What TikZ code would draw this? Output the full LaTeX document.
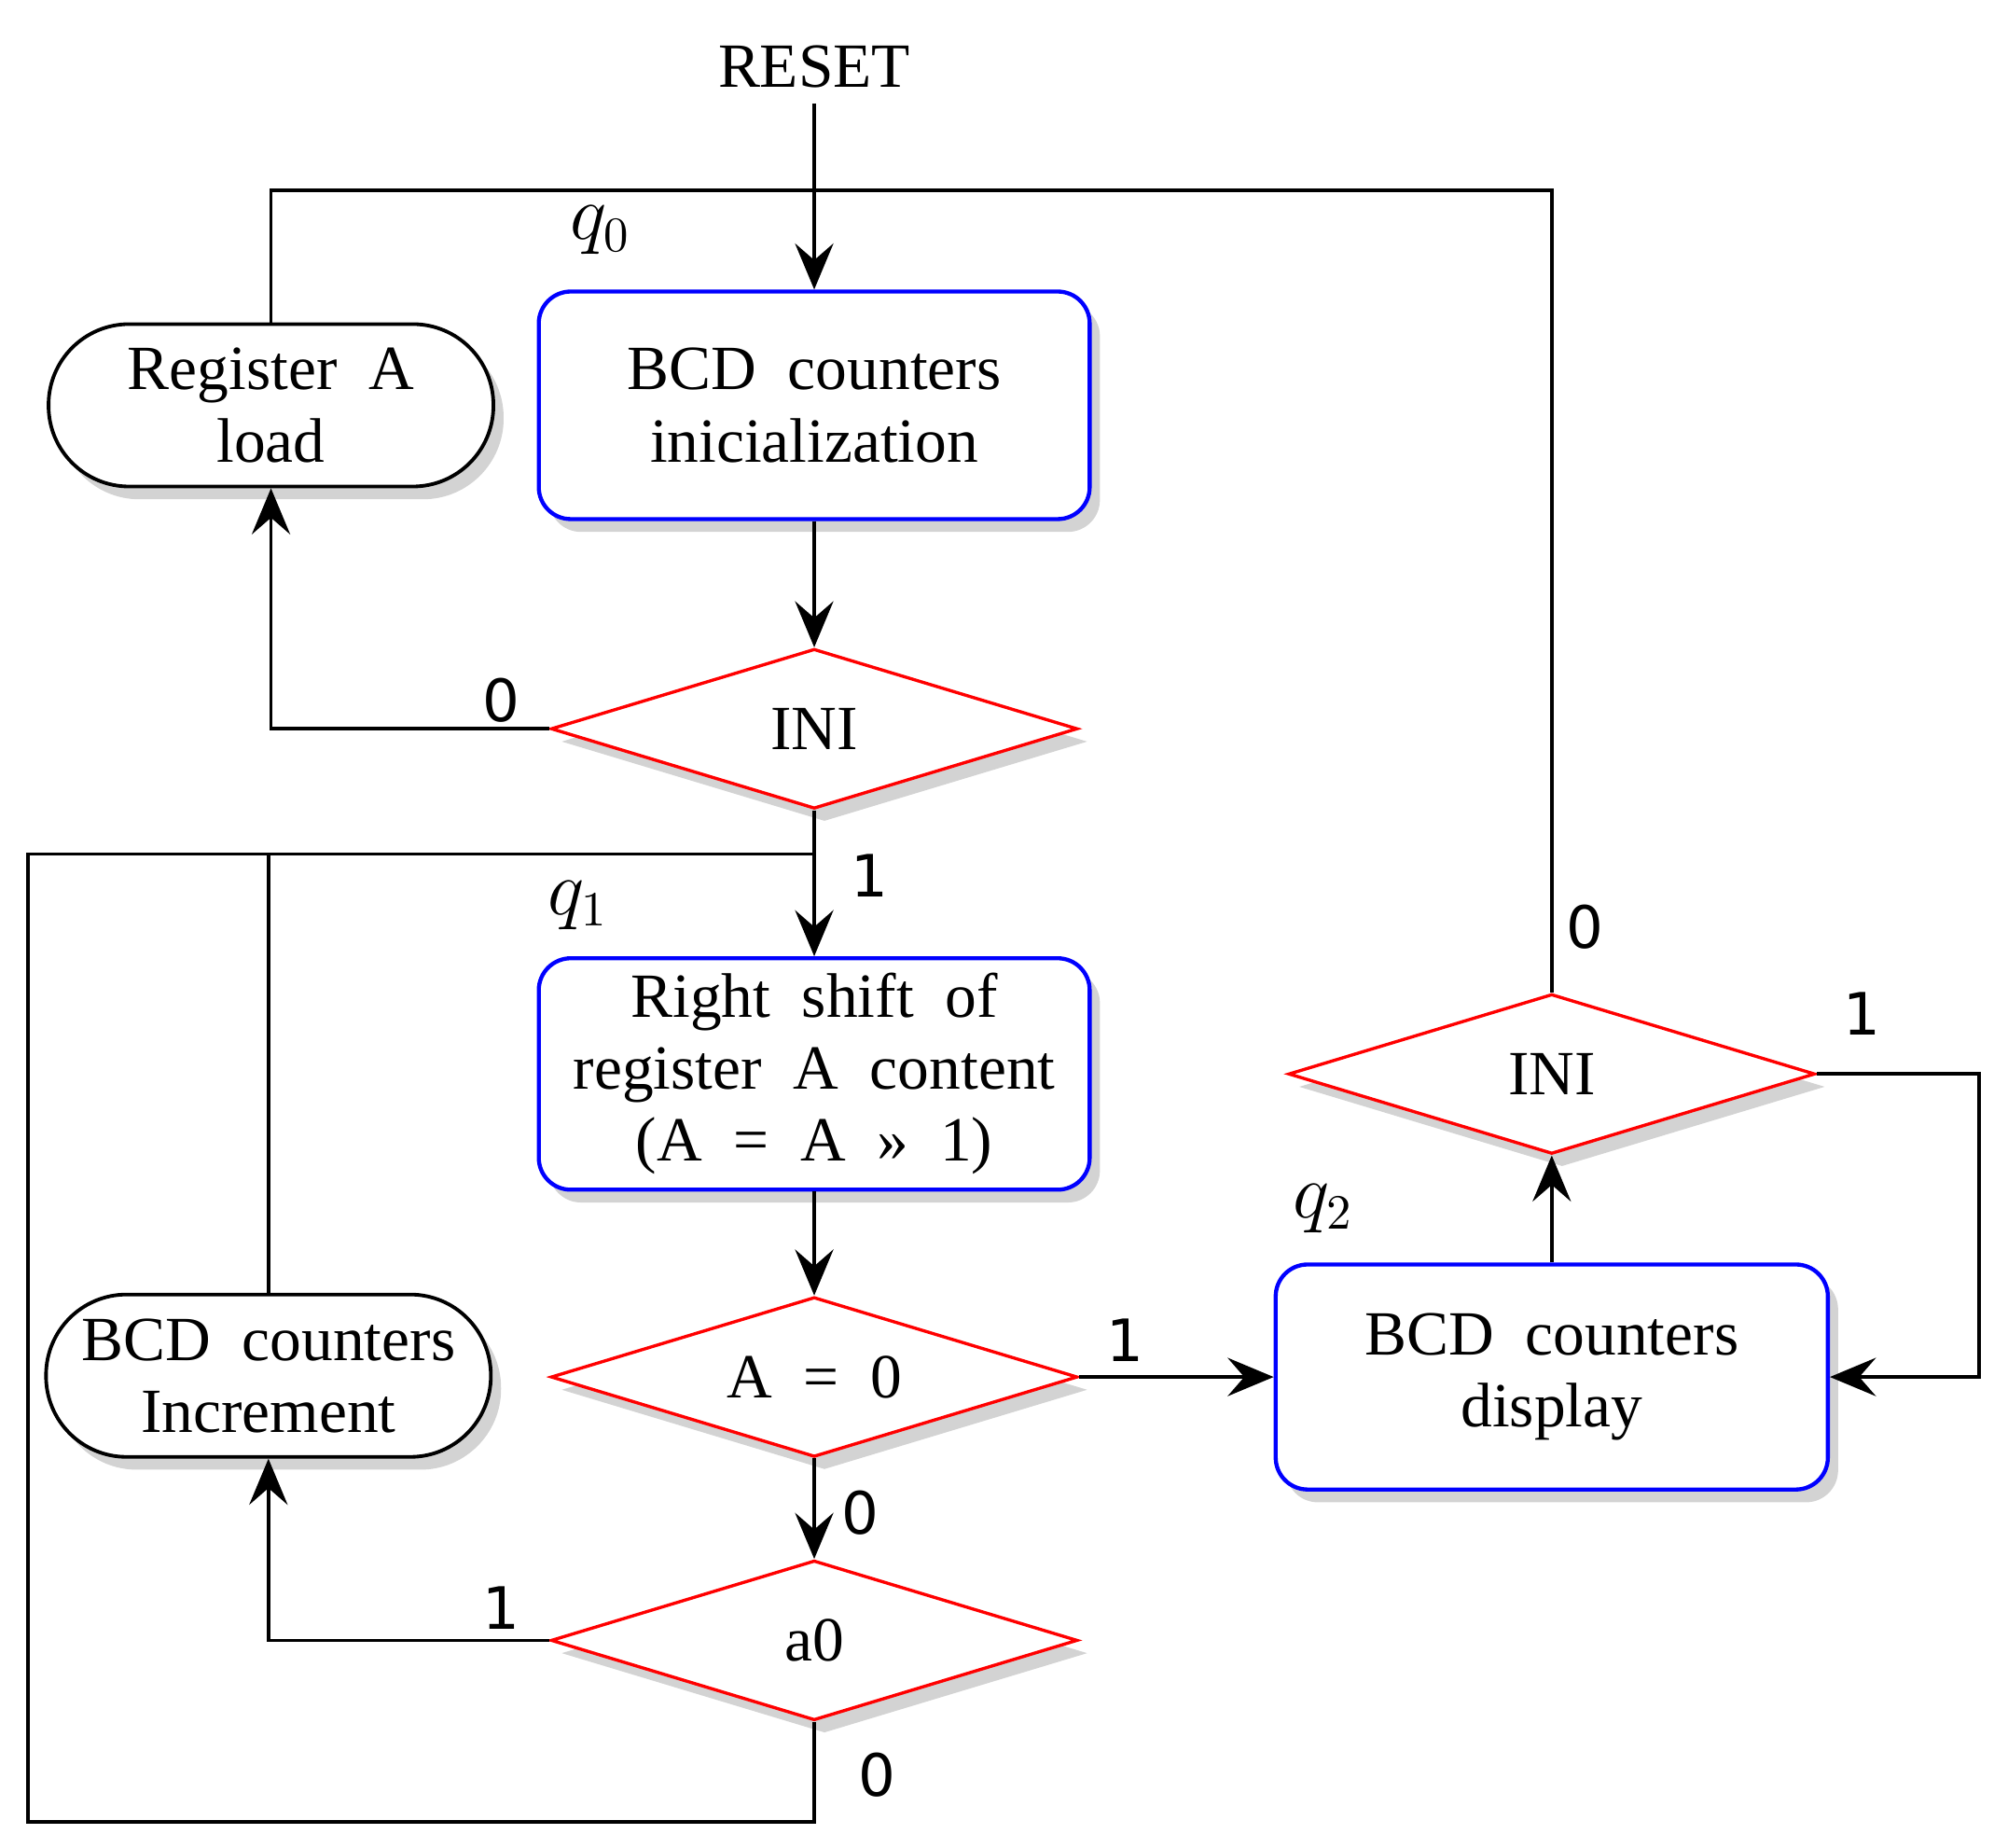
\documentclass[tikz,border=0pt]{standalone}
\usepackage{fontspec}
\setmainfont{Liberation Serif}[WordSpace=2]
\newfontfamily\labelfont{DejaVu Sans}
\usetikzlibrary{shapes.geometric, arrows.meta, shadows}

\tikzset{
	shade/.style={drop shadow={opacity=0.35, shadow xshift=0.08cm, shadow yshift=-0.1cm}},
	statebox/.style={rectangle, draw=blue, line width=0.9pt, rounded corners=2.5mm, fill=white, align=center, font=\fontsize{14}{16}\selectfont, minimum width=4.31cm, minimum height=1.78cm, shade},
	task/.style={rectangle, draw, line width=0.8pt, rounded corners=6.3mm, fill=white, align=center, font=\fontsize{14}{16}\selectfont, minimum width=3.48cm, minimum height=1.27cm, inner sep=1pt, shade},
	decision/.style={diamond, draw=red, line width=0.7pt, fill=white, font=\fontsize{14}{16}\selectfont, minimum width=4.12cm, minimum height=1.25cm, inner sep=0pt, shape aspect=3.3, shade},
	bit/.style={font=\labelfont\fontsize{13}{15}\selectfont},
	state/.style={font=\fontsize{16}{18}\selectfont},
	flow/.style={line width=0.8pt, -{Stealth[length=3.6mm, width=3mm, inset=1.3mm]}},
	wire/.style={line width=0.8pt}
}

\begin{document}
\begin{tikzpicture}
{
	\useasboundingbox (0,0) rectangle (15.6,-14.45);

	% states and decisions
	\node[font=\fontsize{14}{16}\selectfont] (Reset) at (6.37,-0.52) {RESET};
	\node[statebox] (Init) at (6.37,-3.17) {BCD counters\\inicialization};
	\node[task] (Load) at (2.12,-3.17) {Register A\\load};
	\node[decision] (IniA) at (6.37,-5.70) {INI};
	\node[statebox, minimum height=1.80cm] (Shift) at (6.37,-8.40) {Right shift of\\register A content\\(A = A » 1)};
	\node[decision] (AZero) at (6.37,-10.77) {A = 0};
	\node[decision] (ABit) at (6.37,-12.83) {a0};
	\node[task] (Incr) at (2.10,-10.76) {BCD counters\\Increment};
	\node[statebox, minimum width=4.32cm, minimum height=1.76cm] (Display) at (12.14,-10.77) {BCD counters\\display};
	\node[decision] (IniB) at (12.14,-8.40) {INI};

	\node[state] (QZero) at (4.70,-1.80) {$q_0$};
	\node[state] (QOne) at (4.52,-7.08) {$q_1$};
	\node[state] (QTwo) at (10.35,-9.45) {$q_2$};

	\coordinate (TopRight) at (12.14,-1.49);
	\coordinate (Join) at (6.37,-6.68);
	\coordinate (BottomLeft) at (0.22,-14.25);

	% connectors
	\draw[flow] (Reset) -- (Init);
	\draw[wire] (Load.north) |- (TopRight) -- (IniB.north);
	\draw[flow] (Init) -- (IniA);
	\draw[flow] (IniA.west) -| (Load.south);
	\draw[flow] (IniA.south) -- (Shift.north);
	\draw[wire] (ABit.south) |- (BottomLeft) |- (Join);
	\draw[wire] (Incr.north) -- (Incr.north |- Join);
	\draw[flow] (Shift) -- (AZero);
	\draw[flow] (AZero.east) -- (Display.west);
	\draw[flow] (AZero.south) -- (ABit.north);
	\draw[flow] (ABit.west) -| (Incr.south);
	\draw[flow] (Display) -- (IniB);
	\draw[flow] (IniB.east) -- ++(1.27,0) |- (Display.east);

	% branch values
	\node[bit] (IniAZero) at (3.92,-5.48) {0};
	\node[bit] (IniAOne) at (6.80,-6.85) {1};
	\node[bit] (AZeroOne) at (8.80,-10.48) {1};
	\node[bit] (AZeroZero) at (6.73,-11.83) {0};
	\node[bit] (ABitOne) at (3.92,-12.58) {1};
	\node[bit] (ABitZero) at (6.86,-13.88) {0};
	\node[bit] (IniBZero) at (12.40,-7.25) {0};
	\node[bit] (IniBOne) at (14.57,-7.93) {1};
}
\end{tikzpicture}
\end{document}
